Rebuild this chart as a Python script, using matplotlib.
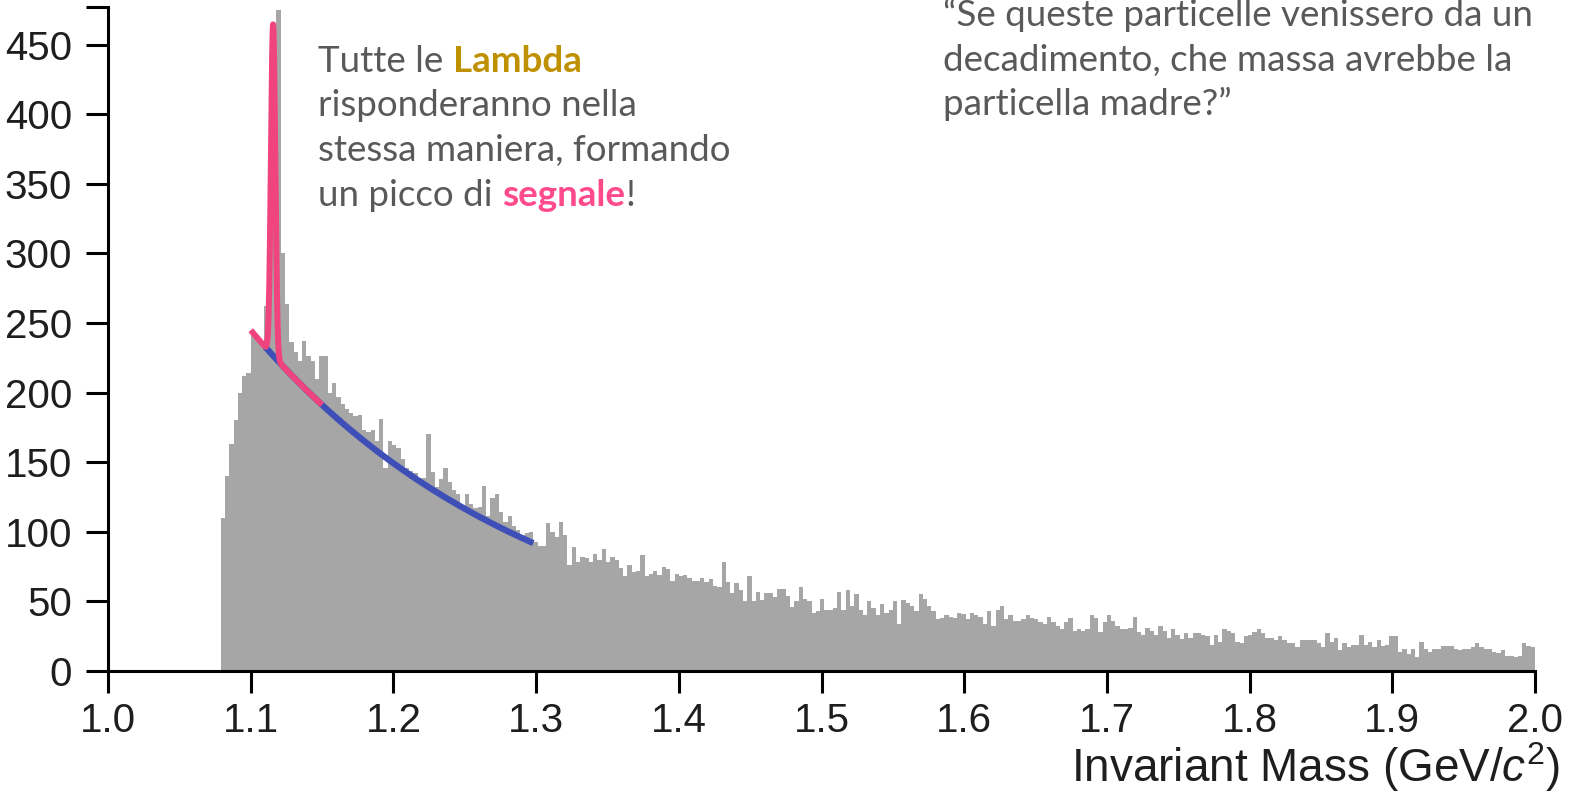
import numpy as np
import matplotlib
matplotlib.use('Agg')
import matplotlib.pyplot as plt

plt.rcParams['font.family'] = ['Liberation Sans', 'DejaVu Sans']
plt.rcParams['mathtext.fontset'] = 'custom'
plt.rcParams['mathtext.rm'] = 'Liberation Sans'
plt.rcParams['mathtext.it'] = 'Liberation Sans:italic'

# invariant mass histogram, 3 MeV bins from 1.079 to 2.000 GeV/c^2
bin_lo = 1.079
bin_width = 0.003
counts = [
    110, 140, 163, 180, 200, 212, 214, 245, 240, 236,
    262, 275, 340, 475, 300, 264, 236, 229, 223, 237,
    226, 223, 210, 226, 226, 200, 207, 197, 192, 188,
    185, 183, 184, 173, 172, 173, 165, 181, 146, 165,
    162, 160, 152, 146, 144, 142, 139, 139, 170, 143,
    132, 138, 146, 136, 130, 127, 119, 127, 120, 117,
    118, 133, 111, 124, 127, 114, 107, 111, 104, 101,
    98, 99, 100, 93, 90, 90, 106, 100, 96, 107,
    98, 76, 89, 78, 82, 81, 78, 84, 80, 88,
    78, 82, 80, 74, 68, 76, 71, 72, 83, 68,
    70, 72, 69, 75, 73, 65, 70, 68, 69, 67,
    65, 65, 67, 64, 66, 61, 60, 78, 64, 56,
    63, 58, 50, 68, 50, 57, 51, 56, 56, 53,
    59, 59, 54, 46, 50, 60, 52, 50, 42, 43,
    52, 44, 44, 45, 57, 44, 58, 47, 55, 44,
    40, 50, 45, 40, 48, 42, 44, 50, 34, 51,
    49, 47, 43, 55, 52, 47, 43, 37, 38, 40,
    39, 38, 42, 41, 37, 42, 40, 39, 34, 43,
    32, 44, 47, 37, 40, 36, 36, 37, 40, 38,
    37, 35, 34, 39, 35, 32, 30, 35, 38, 29,
    30, 29, 30, 40, 38, 28, 35, 40, 36, 32,
    30, 30, 31, 39, 28, 26, 31, 29, 26, 32,
    29, 24, 30, 26, 23, 27, 24, 27, 27, 26,
    25, 19, 26, 21, 30, 29, 27, 21, 20, 25,
    26, 28, 30, 27, 24, 24, 22, 25, 22, 20,
    20, 17, 22, 22, 22, 22, 20, 17, 27, 21,
    24, 15, 20, 17, 19, 19, 26, 19, 21, 17,
    22, 18, 19, 25, 25, 14, 16, 12, 16, 10,
    21, 16, 14, 16, 16, 18, 18, 18, 16, 15,
    16, 16, 17, 20, 17, 16, 16, 14, 13, 15,
    11, 11, 10, 11, 20, 18, 17,
]

# fit: exponential background + gaussian Lambda peak
bkg_ref = 1.110
bkg_norm = 233.0
bkg_slope = 4.95
sig_mass = 1.1157
sig_amp = 238.0
sig_sigma = 0.0015
bkg_range = (1.110, 1.298)
sig_range = (1.100, 1.150)

x_ticks = [1.0, 1.1, 1.2, 1.3, 1.4, 1.5, 1.6, 1.7, 1.8, 1.9, 2.0]
y_ticks = [0, 50, 100, 150, 200, 250, 300, 350, 400, 450]
y_top = 477


def background(m):
    return bkg_norm * np.exp(-bkg_slope * (m - bkg_ref))


def signal_plus_bkg(m):
    return background(m) + sig_amp * np.exp(-0.5 * ((m - sig_mass) / sig_sigma) ** 2)


W, H = 1571, 791
fig = plt.figure(figsize=(W / 100, H / 100), dpi=100)
ax = fig.add_axes([108 / W, 120 / H, 1427 / W, 664 / H])

edges = bin_lo + bin_width * np.arange(len(counts) + 1)
ax.stairs(counts, edges, fill=True, color='#a6a6a6', zorder=1)

mb = np.linspace(*bkg_range, 400)
ax.plot(mb, background(mb), color='#3f4fb8', lw=4.5, solid_capstyle='butt', zorder=3)
ms = np.linspace(*sig_range, 1500)
ax.plot(ms, signal_plus_bkg(ms), color='#f0447f', lw=4.3, solid_capstyle='butt',
        solid_joinstyle='round', zorder=4)

ax.set_xlim(1.0, 2.0)
ax.set_ylim(0, y_top)
ax.set_xticks(x_ticks)
ax.set_xticklabels([f'{v:.1f}' for v in x_ticks])
ax.set_yticks(y_ticks)
ax.set_yticks([y_top], minor=True)
ax.tick_params(axis='both', which='both', direction='out', length=16, width=2.2,
               labelsize=29, color='black', labelcolor='#1e1e1e')
ax.tick_params(axis='x', pad=6)
ax.tick_params(axis='y', pad=10)
for side in ['top', 'right']:
    ax.spines[side].set_visible(False)
for side in ['left', 'bottom']:
    ax.spines[side].set_linewidth(2.2)
ax.patch.set_visible(False)

fig.text(1560 / W, 1 - 782 / H, r'Invariant Mass (GeV/$c^{2}$)', ha='right',
         va='baseline', fontsize=33, color='#1e1e1e')

# annotation text, coloured words placed one after another
renderer = fig.canvas.get_renderer()
gray = '#595959'


def rich_line(x_px, base_px, pieces, size=26.5):
    x = x_px / W
    for text, color, weight in pieces:
        t = fig.text(x, 1 - base_px / H, text, color=color, fontweight=weight,
                     fontsize=size, family='Lato', va='baseline', ha='left')
        bb = t.get_window_extent(renderer)
        x += bb.width / W


step = 44.5
rich_line(318, 72, [('Tutte le ', gray, 'normal'), ('Lambda', '#bf9000', 'bold')])
rich_line(318, 72 + step, [('risponderanno nella', gray, 'normal')])
rich_line(318, 72 + 2 * step, [('stessa maniera, formando', gray, 'normal')])
rich_line(318, 72 + 3 * step, [('un picco di ', gray, 'normal'), ('segnale', '#ff4b8c', 'bold'),
                               ('!', gray, 'normal')])

rich_line(943, 26, [('\u201cSe queste particelle venissero da un', gray, 'normal')])
rich_line(943, 26 + step, [('decadimento, che massa avrebbe la', gray, 'normal')])
rich_line(943, 26 + 2 * step, [('particella madre?\u201d', gray, 'normal')])

fig.savefig('out.png', dpi=100)
